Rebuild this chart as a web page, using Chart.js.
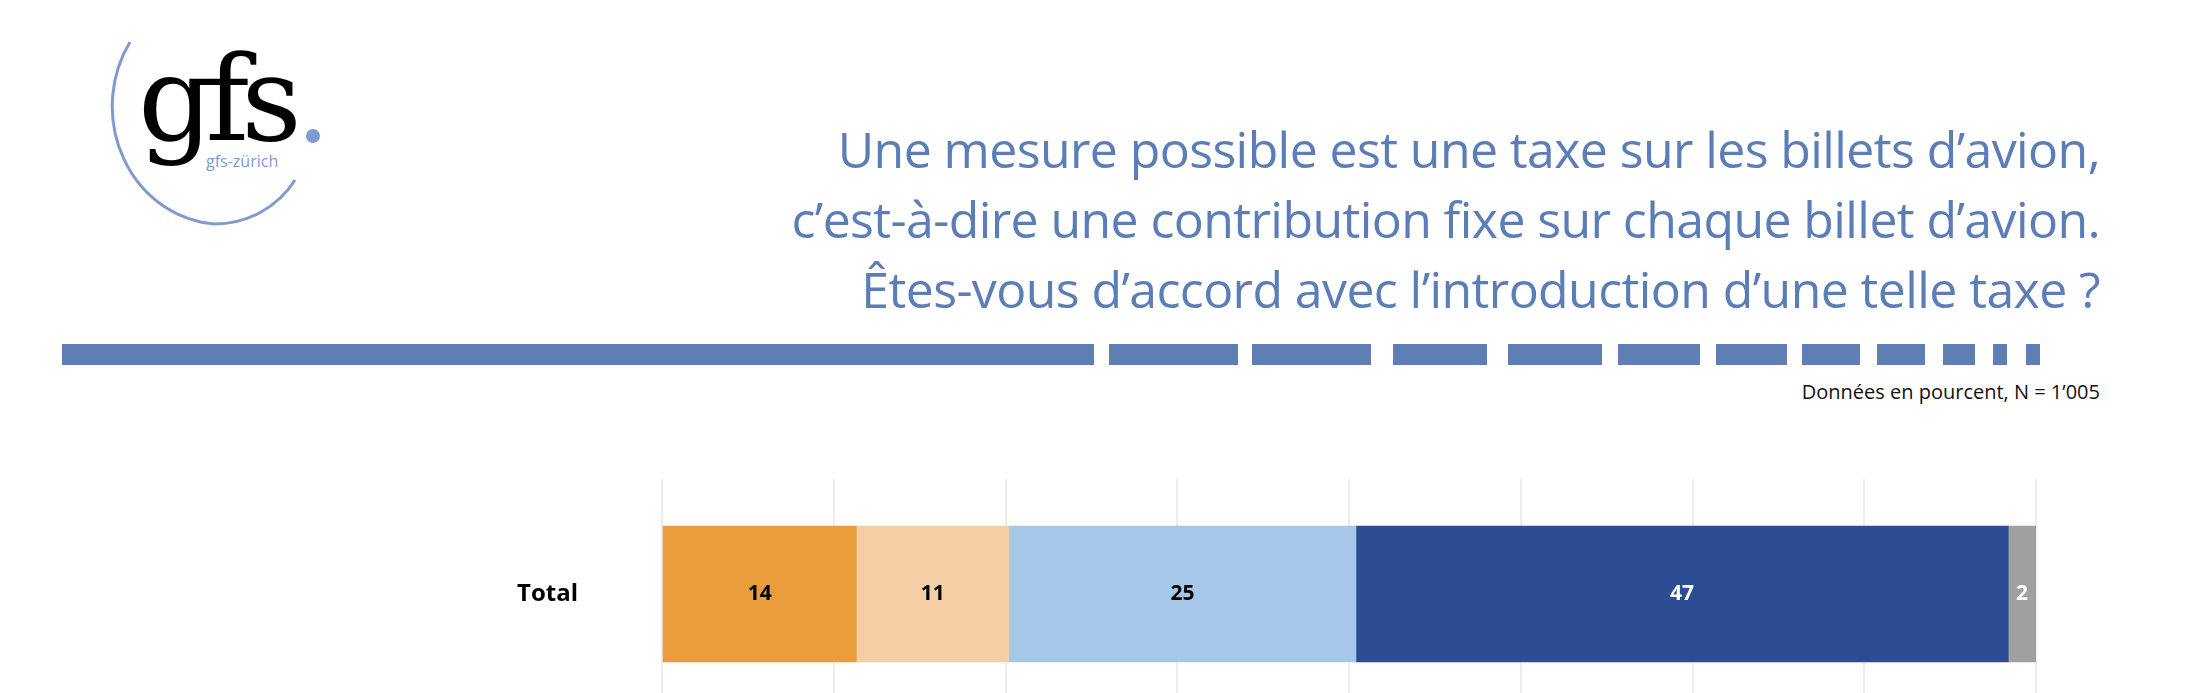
<!DOCTYPE html>
<html>
<head>
<meta charset="utf-8">
<script src="https://cdn.jsdelivr.net/npm/chart.js@4/dist/chart.umd.min.js"></script>
<style>
  html, body { margin: 0; width: 2186px; height: 693px; overflow: hidden; background: #fff; font-family: 'Open Sans', sans-serif; }
  #title { position: absolute; right: 86px; top: 114px; text-align: right; color: #5b7db8; font-size: 50px; line-height: 70px; letter-spacing: -0.6px; }
  #sub { position: absolute; right: 86px; top: 378px; font-size: 20px; color: #111; }
  .dash { position: absolute; top: 344px; height: 21px; background: #5f7fb4; }
  #c { position: absolute; left: 0; top: 479px; }
  #logo { position: absolute; left: 90px; top: 30px; }
</style>
</head>
<body>
<svg id="logo" width="260" height="200" viewBox="0 0 260 200">
  <path d="M 40 12 A 110 118 0 0 0 125 194 A 95 95 0 0 0 205 150" fill="none" stroke="#7f9bd0" stroke-width="3"/>
  <text x="48" y="110" font-family="DejaVu Serif, serif" font-size="118" fill="#000" letter-spacing="-8">gfs</text>
  <circle cx="223" cy="106" r="7" fill="#7f9bd0"/>
  <text x="116" y="137" font-family="Open Sans, sans-serif" font-size="16" fill="#7f9bd0">gfs-zürich</text>
</svg>
<div id="title">Une mesure possible est une taxe sur les billets d’avion,<br>c’est-à-dire une contribution fixe sur chaque billet d’avion.<br>Êtes-vous d’accord avec l’introduction d’une telle taxe ?</div>
<div id="dashes"></div>
<div id="sub">Données en pourcent, N = 1’005</div>
<canvas id="c" width="2186" height="230" style="width:2186px;height:230px"></canvas>
<script>
const CATEGORIES = ['Total']
const SERIES_NAMES = ['pas du tout d’accord', 'plutôt pas d’accord', 'plutôt d’accord', 'tout à fait d’accord', 'ne sait pas']
const SERIES_VALUES = [[14], [11], [25], [47], [2]]
const SERIES_COLORS = ['#e89c3c', '#f4cea4', '#a7c7e8', '#2c4d94', '#a0a0a0']
const LABEL_COLORS = ['#000', '#000', '#000', '#fff', '#fff']

// header rule segments [x0, x1]
const DASHES = [[62,1094],[1109,1238],[1252,1371],[1393,1487],[1508,1602],[1618,1700],[1716,1787],[1802,1860],[1877,1925],[1943,1975],[1993,2007],[2026,2040]]
document.getElementById('dashes').innerHTML = DASHES.map(d =>
  `<div class="dash" style="left:${d[0]}px;width:${d[1]-d[0]}px"></div>`).join('')

const valueLabels = {
  id: 'valueLabels',
  afterDatasetsDraw(chart) {
    const ctx = chart.ctx
    ctx.save()
    ctx.font = 'bold 21px "Open Sans", sans-serif'
    ctx.textAlign = 'center'
    ctx.textBaseline = 'middle'
    chart.data.datasets.forEach((ds, i) => {
      chart.getDatasetMeta(i).data.forEach((bar, j) => {
        ctx.fillStyle = LABEL_COLORS[i]
        ctx.fillText(ds.data[j], (bar.x + bar.base) / 2, bar.y)
      })
    })
    ctx.restore()
  }
}

new Chart(document.getElementById('c'), {
  type: 'bar',
  data: {
    labels: CATEGORIES,
    datasets: SERIES_NAMES.map((name, i) => ({
      label: name,
      data: SERIES_VALUES[i],
      backgroundColor: SERIES_COLORS[i],
      borderWidth: 0,
      barThickness: 136,
    })),
  },
  options: {
    indexAxis: 'y',
    animation: false,
    responsive: false,
    devicePixelRatio: 1,
    layout: { padding: { right: 150, top: 0, bottom: 0 } },
    plugins: { legend: { display: false }, tooltip: { enabled: false } },
    scales: {
      x: {
        stacked: true, min: 0, max: 99,
        afterBuildTicks: axis => { axis.ticks = [0,1,2,3,4,5,6,7,8].map(k => ({ value: k * 99 / 8 })) },
        ticks: { display: false },
        grid: { color: '#ececec', lineWidth: 2, drawTicks: false },
        border: { display: false },
      },
      y: {
        stacked: true,
        afterFit: axis => { axis.width = 662; axis.paddingTop = 0; axis.paddingBottom = 0 },
        ticks: { color: '#000', padding: 84, font: { size: 24, weight: 'bold', family: 'Open Sans' } },
        grid: { display: false, drawTicks: false },
        border: { display: false },
      },
    },
  },
  plugins: [valueLabels],
})
</script>
</body>
</html>
